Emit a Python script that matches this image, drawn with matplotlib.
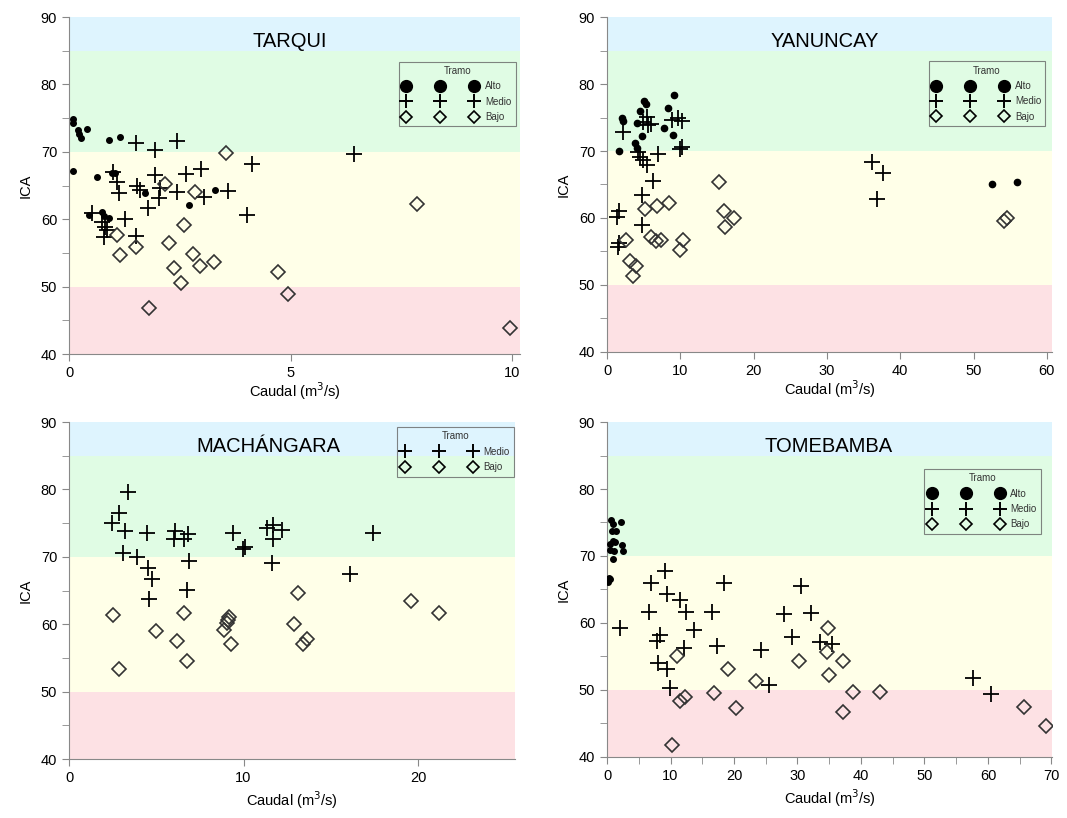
import matplotlib
matplotlib.use("Agg")
import matplotlib.pyplot as plt
from matplotlib.lines import Line2D

plt.rcParams['font.family'] = ['Liberation Sans', 'DejaVu Sans']

# ---- data ----
tarqui_alto_x = [0.08, 0.1, 0.21, 0.23, 0.26, 0.4, 0.9, 1.15, 0.08, 0.62, 0.96, 1.04, 1.72, 3.3, 2.71, 0.46, 0.75, 0.9, 0.78]
tarqui_alto_y = [74.8, 74.3, 73.3, 72.7, 72.0, 73.4, 71.8, 72.2, 67.1, 66.3, 66.9, 66.9, 63.9, 64.4, 62.1, 60.7, 61.0, 60.2, 60.5]
tarqui_medio_x = [1.52, 1.94, 2.43, 4.13, 2.98, 2.65, 1.95, 0.99, 1.08, 1.12, 1.54, 1.6, 2.05, 2.02, 2.43, 3.05, 3.58,
                  1.79, 4.01, 0.51, 1.26, 0.74, 0.81, 0.85, 0.79, 1.51, 6.43]
tarqui_medio_y = [71.3, 70.3, 71.6, 68.2, 67.4, 66.7, 66.6, 67.0, 65.5, 63.9, 65.0, 64.3, 64.6, 63.2, 64.0, 63.3, 64.2,
                  61.7, 60.7, 60.9, 60.0, 59.6, 58.9, 58.4, 57.4, 57.5, 69.7]
tarqui_bajo_x = [3.54, 2.17, 2.84, 2.6, 1.09, 1.51, 1.15, 2.25, 2.8, 2.37, 2.96, 3.27, 2.52, 4.72, 4.94, 1.8, 7.86, 9.95]
tarqui_bajo_y = [69.8, 65.3, 64.0, 59.1, 57.6, 55.9, 54.7, 56.5, 54.9, 52.7, 53.1, 53.6, 50.5, 52.1, 48.9, 46.8, 62.2, 43.8]

yan_alto_x = [1.68, 2.0, 2.2, 3.82, 4.05, 4.5, 4.73, 5.09, 5.3, 8.3, 7.8, 9.05, 9.2, 4.05, 52.5, 55.9]
yan_alto_y = [70.0, 74.9, 74.5, 71.2, 74.2, 75.9, 72.2, 77.5, 77.0, 76.4, 73.4, 72.4, 78.4, 70.4, 65.1, 65.3]
yan_medio_x = [2.14, 5.4, 5.64, 4.95, 8.8, 9.7, 10.2, 10.2, 10.0, 4.27, 4.5, 4.95, 7.0, 5.5, 6.3, 4.73, 1.68, 1.32,
               4.73, 1.68, 1.55, 36.2, 37.6, 36.8, 6.0]
yan_medio_y = [72.9, 75.1, 73.9, 74.4, 74.7, 74.9, 74.5, 70.6, 70.3, 69.9, 69.1, 68.7, 69.5, 67.9, 65.5, 63.4, 61.0, 60.2,
               59.0, 56.2, 55.7, 68.3, 66.7, 62.8, 74.0]
yan_bajo_x = [5.18, 6.78, 8.46, 2.6, 6.0, 6.68, 7.37, 10.4, 10.0, 3.14, 3.96, 3.6, 15.3, 15.9, 17.3, 16.1, 54.2, 54.6]
yan_bajo_y = [61.3, 61.8, 62.2, 56.7, 57.1, 56.5, 56.7, 56.7, 55.2, 53.6, 52.8, 51.3, 65.4, 61.1, 60.0, 58.7, 59.5, 60.0]

mach_medio_x = [3.4, 2.87, 2.45, 3.21, 4.49, 6.07, 6.02, 6.59, 6.84, 9.42, 9.95, 10.09, 11.37, 11.71, 12.19, 11.67,
                11.61, 3.11, 3.92, 4.51, 4.74, 4.6, 6.88, 6.74, 17.44, 16.1]
mach_medio_y = [79.6, 76.5, 75.0, 73.8, 73.6, 73.8, 72.7, 72.7, 73.4, 73.6, 71.2, 71.4, 74.3, 74.7, 74.0, 72.6,
                69.1, 70.5, 70.0, 68.3, 66.7, 63.7, 69.4, 65.1, 73.5, 67.5]
mach_bajo_x = [2.5, 2.88, 4.99, 6.21, 6.59, 6.78, 9.19, 9.13, 9.04, 8.9, 9.26, 13.14, 12.91, 13.66, 13.43, 19.58, 21.22]
mach_bajo_y = [61.3, 53.4, 59.0, 57.5, 61.6, 54.5, 61.0, 60.6, 60.2, 59.2, 57.1, 64.6, 60.1, 57.8, 57.1, 63.4, 61.6]

tome_alto_x = [0.58, 0.9, 2.15, 0.74, 1.42, 1.0, 0.47, 1.26, 2.31, 0.47, 1.1, 2.57, 0.9, 0.36, 0.2, 0.45]
tome_alto_y = [75.4, 74.8, 75.1, 73.8, 73.8, 72.3, 71.8, 72.1, 71.7, 70.9, 70.7, 70.7, 69.5, 66.7, 66.1, 66.5]
tome_medio_x = [9.08, 6.98, 18.5, 30.6, 9.5, 11.5, 6.66, 12.4, 16.6, 27.8, 32.1, 2.05, 13.75, 8.35, 7.8, 29.1, 12.2,
                17.4, 24.25, 33.5, 35.4, 8.08, 9.5, 9.9, 25.5, 57.6, 60.5]
tome_medio_y = [67.8, 66.0, 66.0, 65.5, 64.4, 63.5, 61.7, 61.6, 61.7, 61.3, 61.5, 59.2, 58.9, 58.2, 57.3, 57.9, 56.3,
                56.5, 56.0, 57.1, 56.9, 54.0, 53.2, 50.3, 50.8, 51.8, 49.4]
tome_bajo_x = [34.8, 34.6, 37.1, 30.2, 35.0, 11.1, 19.0, 23.4, 16.9, 12.3, 11.5, 20.3, 37.1, 10.2, 38.8, 43.0, 65.7, 69.1]
tome_bajo_y = [59.3, 55.6, 54.3, 54.4, 52.3, 55.0, 53.2, 51.3, 49.6, 48.9, 48.3, 47.3, 46.7, 41.8, 49.7, 49.7, 47.4, 44.6]

# quality bands (ICA)
bands = [(40, 50, '#fde1e4'), (50, 70, '#ffffe8'), (70, 85, '#e0fce4'), (85, 90, '#def4fe')]


def setup_panel(ax, title, xmax, xticks, title_x, xpad=1):
    for lo, hi, c in bands:
        ax.axhspan(lo, hi, color=c, lw=0, zorder=0)
    ax.set_xlim(0, xmax)
    ax.set_ylim(40, 90)
    ax.set_xticks(xticks)
    ax.set_yticks(range(40, 91, 10))
    ax.set_yticks(range(45, 90, 10), minor=True)
    ax.tick_params(which='both', direction='out', length=5, color='#888888', labelsize=10.5)
    for s in ['top', 'right']:
        ax.spines[s].set_visible(False)
    for s in ['left', 'bottom']:
        ax.spines[s].set_color('#888888')
    ax.set_xlabel('Caudal (m$^3$/s)', fontsize=10.5, labelpad=xpad)
    ax.set_ylabel('ICA', fontsize=10.5, labelpad=6)
    ax.text(title_x, 0.926, title, transform=ax.transAxes, ha='center', va='center', fontsize=14.5)


def add_legend(ax, with_alto, anchor):
    h = []
    if with_alto:
        h.append(Line2D([], [], marker='o', ms=8.5, color='black', ls='none', label='Alto'))
    h.append(Line2D([], [], marker='+', ms=10, mew=1.4, color='black', ls='none', label='Medio'))
    h.append(Line2D([], [], marker='D', ms=6, mfc='none', mec='black', mew=1.2, color='black', ls='none',
                    label='Bajo'))
    leg = ax.legend(handles=h, numpoints=3, loc='upper right', bbox_to_anchor=anchor, title='Tramo',
                    fontsize=7, title_fontsize=7, handlelength=7.6, handletextpad=0.8, labelspacing=0.55,
                    borderpad=0.45, borderaxespad=0, fancybox=False, edgecolor='#666666')
    leg.get_frame().set_facecolor('none')
    leg.get_frame().set_linewidth(0.8)
    leg.get_title().set_color('#333333')
    for t in leg.get_texts():
        t.set_color('#333333')


def draw(ax, alto, medio, bajo, dot_ms=4):
    if alto is not None:
        ax.plot(alto[0], alto[1], 'o', color='black', ms=dot_ms, zorder=3)
    ax.plot(medio[0], medio[1], '+', color='black', ms=11, mew=1.3, zorder=3)
    ax.plot(bajo[0], bajo[1], 'D', mfc='none', mec='#333333', ms=7, mew=1.2, zorder=3)


fig = plt.figure(figsize=(10.67, 8.18), dpi=100)
ax1 = fig.add_axes([0.0647, 0.5672, 0.4227, 0.412])
ax2 = fig.add_axes([0.5689, 0.5697, 0.4171, 0.4095])
ax3 = fig.add_axes([0.0647, 0.0721, 0.418, 0.412])
ax4 = fig.add_axes([0.5689, 0.0746, 0.4171, 0.4095])

setup_panel(ax1, 'TARQUI', 10.18, [0, 5, 10], 0.49, xpad=0.5)
draw(ax1, (tarqui_alto_x, tarqui_alto_y), (tarqui_medio_x, tarqui_medio_y), (tarqui_bajo_x, tarqui_bajo_y))
add_legend(ax1, True, (0.99, 0.868))

setup_panel(ax2, 'YANUNCAY', 60.7, range(0, 61, 10), 0.49, xpad=0.5)
draw(ax2, (yan_alto_x, yan_alto_y), (yan_medio_x, yan_medio_y), (yan_bajo_x, yan_bajo_y), dot_ms=4.5)
add_legend(ax2, True, (0.985, 0.868))

setup_panel(ax3, 'MACHÁNGARA', 25.56, [0, 10, 20], 0.446, xpad=3)
draw(ax3, None, (mach_medio_x, mach_medio_y), (mach_bajo_x, mach_bajo_y))
add_legend(ax3, False, (0.998, 0.985))

setup_panel(ax4, 'TOMEBAMBA', 70.1, range(0, 71, 10), 0.497, xpad=3)
ax4.set_xticks(range(5, 70, 10), minor=True)
draw(ax4, (tome_alto_x, tome_alto_y), (tome_medio_x, tome_medio_y), (tome_bajo_x, tome_bajo_y))
add_legend(ax4, True, (0.975, 0.86))

fig.savefig('out.png', dpi=100)
